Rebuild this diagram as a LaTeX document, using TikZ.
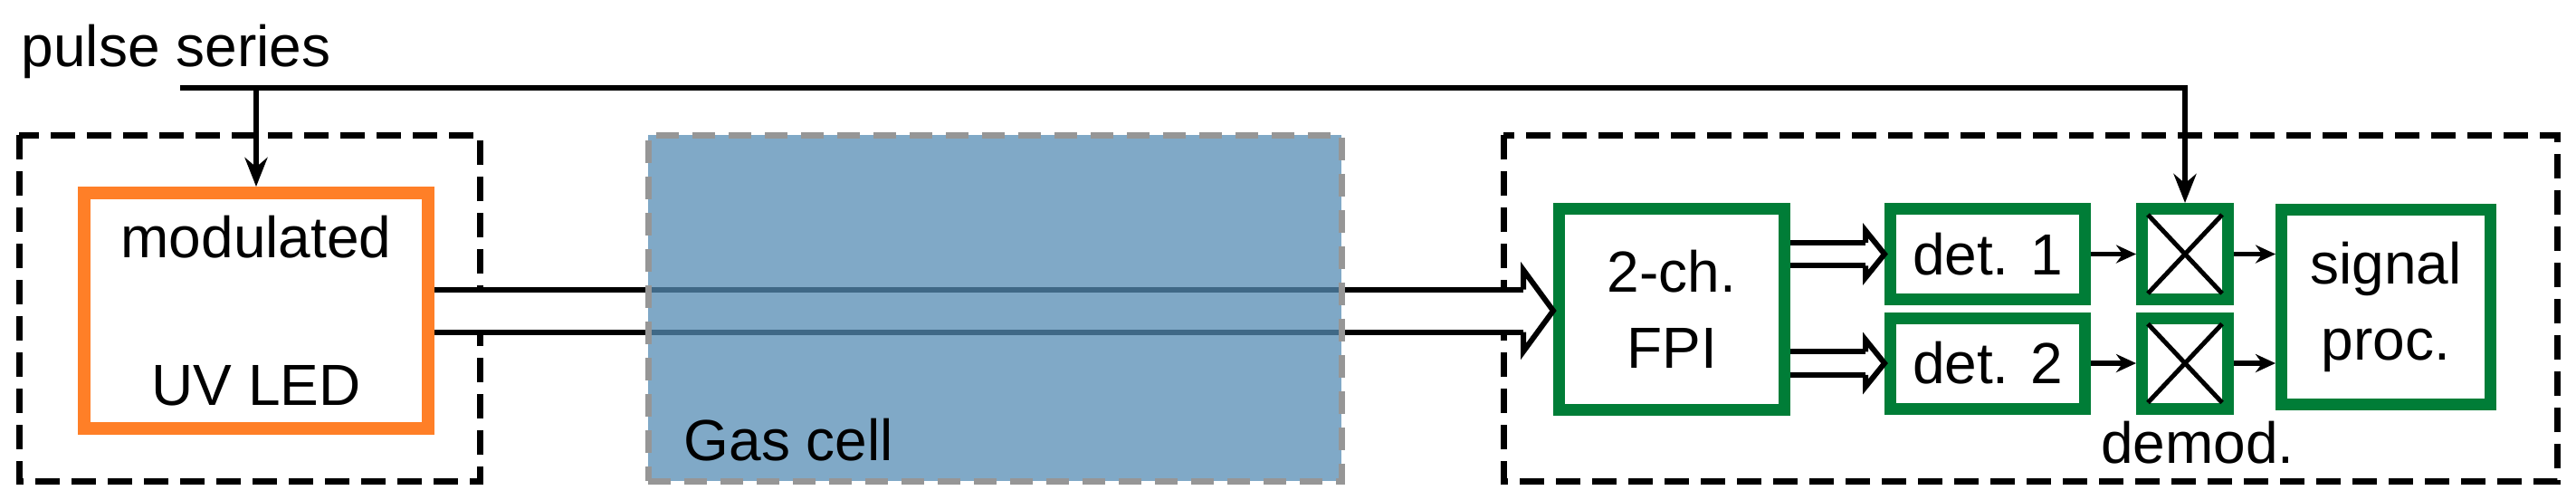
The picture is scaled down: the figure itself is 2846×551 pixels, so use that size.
\documentclass[tikz,border=0pt]{standalone}
\usepackage{fontspec}
\setmainfont{Liberation Sans}
\usetikzlibrary{arrows.meta}
\definecolor{ledorange}{RGB}{255,127,39}
\definecolor{boxgreen}{RGB}{0,125,55}
\definecolor{cellblue}{RGB}{85,140,180}
\definecolor{cellgray}{RGB}{150,150,150}
\tikzset{txt/.style = {font = \fontsize{16}{21}\selectfont, inner sep = 0}}
\tikzset{grp/.style = {line width = 1.75pt, dash pattern = on 6.75pt off 3.25pt}}
\tikzset{gbox/.style = {draw = boxgreen, line width = 3.25pt, txt, align = center}}
\tikzset{sig/.style = {line width = 1.3pt, -{Stealth[length = 5.5pt, width = 5pt]}}}
\tikzset{pulse/.style = {line width = 1.4pt, -{Stealth[length = 8pt, width = 6.25pt]}}}
\tikzset{beam/.style = {line width = 1.5pt, double, double distance = #1}}
\def\beamhead(#1)(#2,#3,#4){%
    \draw [line width = 1.5pt] (#1) ++(-#2, -#4) -- ++(0, #4 - #3) -- (#1)
        -- ++(-#2, #3) -- ++(0, #4 - #3);%
}

\begin{document}
\begin{tikzpicture}[x = 0.25pt, y = -0.25pt]
    \useasboundingbox (0, 0) rectangle (2846, 551);
    \draw [grp] (21, 149) rectangle (530, 531);
    \draw [grp] (1661, 149) rectangle (2825, 531);
    \node [draw = ledorange, line width = 3.5pt, txt, align = center,
           minimum width = 95pt, minimum height = 65pt] (led) at (283, 343) {modulated\\[19.75pt]UV LED};
    \node [gbox, minimum width = 62.25pt, minimum height = 55.5pt] (fpi) at (1847, 341.5) {2-ch.\\FPI};
    \node [gbox, minimum width = 53.75pt, minimum height = 25pt] (det1) at (2196, 280.5) {det. 1};
    \node [gbox, minimum width = 53.75pt, minimum height = 25pt] (det2) at (2196, 401) {det. 2};
    \node [gbox, minimum width = 23.75pt, minimum height = 25pt] (mix1) at (2414, 280.5) {};
    \node [gbox, minimum width = 23.75pt, minimum height = 25pt] (mix2) at (2414, 401) {};
    \node [gbox, minimum width = 57.75pt, minimum height = 53.75pt] (proc) at (2636, 339) {signal\\proc.};
    \node [txt, anchor = base west] (series) at (23, 73) {pulse series};
    \node [txt, anchor = base] (demod) at (2428, 511) {demod.};
    \coordinate (start) at (199, 97);
    \coordinate (tip) at (led.east -| fpi.west);

    \draw [beam = 10.25pt, shorten > = 8.25pt] (led.east) -- (tip);
    \beamhead(tip)(33, 45, 23.5)
    \node [draw = cellgray, fill = cellblue, fill opacity = 0.75, line width = 1.75pt,
           dash pattern = on 6.25pt off 3.75pt, minimum width = 191.5pt, minimum height = 95.5pt] (cell) at (1099, 340) {};
    \node [txt, anchor = base west] (celltxt) at (755, 508) {Gas cell};

    \draw [beam = 4.875pt, shorten > = 5.25pt] (fpi.east |- det1.west) -- (det1.west);
    \beamhead(det1.west)(21, 26, 12.75)
    \draw [beam = 4.875pt, shorten > = 5.25pt] (fpi.east |- det2.west) -- (det2.west);
    \beamhead(det2.west)(21, 26, 12.75)
    \draw [line width = 1.25pt] ([shift = {(3.25pt, -3.25pt)}]mix1.north west) -- ([shift = {(-3.25pt, 3.25pt)}]mix1.south east);
    \draw [line width = 1.25pt] ([shift = {(3.25pt, 3.25pt)}]mix1.south west) -- ([shift = {(-3.25pt, -3.25pt)}]mix1.north east);
    \draw [line width = 1.25pt] ([shift = {(3.25pt, -3.25pt)}]mix2.north west) -- ([shift = {(-3.25pt, 3.25pt)}]mix2.south east);
    \draw [line width = 1.25pt] ([shift = {(3.25pt, 3.25pt)}]mix2.south west) -- ([shift = {(-3.25pt, -3.25pt)}]mix2.north east);
    \draw [sig] (det1) -- (mix1);
    \draw [sig] (det2) -- (mix2);
    \draw [sig] (mix1.east) -- (mix1.east -| proc.west);
    \draw [sig] (mix2.east) -- (mix2.east -| proc.west);

    \draw [pulse] (start) -| (mix1.north);
    \draw [pulse] (led.north |- start) -- (led.north);
\end{tikzpicture}
\end{document}
